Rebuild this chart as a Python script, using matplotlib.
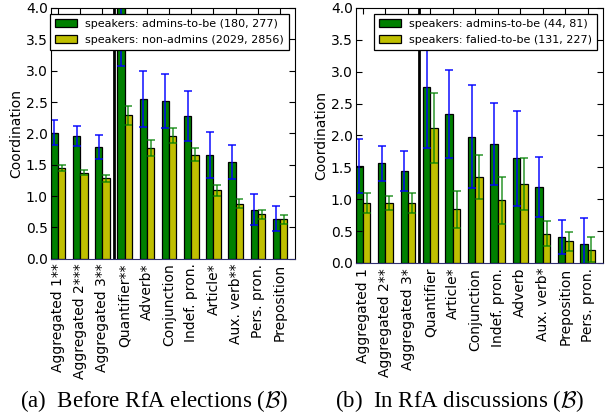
import matplotlib
matplotlib.use('Agg')
import matplotlib.pyplot as plt
import numpy as np

plt.rcParams['mathtext.fontset'] = 'cm'

labels_a = ['Aggregated 1**', 'Aggregated 2***', 'Aggregated 3**', 'Quantifier**', 'Adverb*',
            'Conjunction', 'Indef. pron.', 'Article*', 'Aux. verb**', 'Pers. pron.', 'Preposition']
admins_a = [2.01, 1.96, 1.78, 4.08, 2.55, 2.52, 2.28, 1.65, 1.54, 0.78, 0.64]
admins_a_err = [0.20, 0.16, 0.19, 1.00, 0.45, 0.43, 0.40, 0.37, 0.27, 0.25, 0.20]
nonadmins_a = [1.45, 1.37, 1.28, 2.29, 1.77, 1.96, 1.66, 1.09, 0.88, 0.71, 0.63]
nonadmins_a_err = [0.05, 0.04, 0.05, 0.15, 0.13, 0.12, 0.10, 0.09, 0.07, 0.07, 0.07]

labels_b = ['Aggregated 1', 'Aggregated 2**', 'Aggregated 3*', 'Quantifier', 'Article*',
            'Conjunction', 'Indef. pron.', 'Adverb', 'Aux. verb*', 'Preposition', 'Pers. pron.']
admins_b = [1.52, 1.56, 1.44, 2.76, 2.33, 1.98, 1.87, 1.64, 1.19, 0.41, 0.30]
admins_b_err = [0.43, 0.27, 0.31, 0.96, 0.69, 0.81, 0.64, 0.75, 0.47, 0.27, 0.41]
failed_b = [0.94, 0.94, 0.94, 2.12, 0.84, 1.35, 0.98, 1.24, 0.46, 0.34, 0.21]
failed_b_err = [0.16, 0.11, 0.15, 0.55, 0.29, 0.34, 0.37, 0.41, 0.20, 0.15, 0.19]

legend_a = ['speakers: admins-to-be (180, 277)', 'speakers: non-admins (2029, 2856)']
legend_b = ['speakers: admins-to-be (44, 81)', 'speakers: falied-to-be (131, 227)']

width = 0.33
fig = plt.figure(figsize=(6.13, 4.2), dpi=100)


def draw(ax, labels, a, a_err, b, b_err, leg):
    ind = np.arange(len(labels))
    bars1 = ax.bar(ind, a, width, align='edge', color='g', edgecolor='black', linewidth=0.9,
                   yerr=a_err, error_kw=dict(ecolor=(0, 0, 1, 0.8), capsize=3, elinewidth=1.3, capthick=1.3))
    bars2 = ax.bar(ind + width, b, width, align='edge', color='y', edgecolor='black', linewidth=0.9,
                   yerr=b_err, error_kw=dict(ecolor=(0, 0.5, 0, 0.7), capsize=3, elinewidth=1.3, capthick=1.3))
    ax.axvline(3 - (1 - 2 * width) / 2, color='black', linewidth=2)
    ax.set_xlim(0, len(labels))
    ax.set_ylim(0, 4)
    ax.set_yticks(np.arange(0, 4.01, 0.5))
    ax.set_xticks(ind + width)
    ax.set_xticklabels(labels, rotation=90, fontsize=10)
    ax.tick_params(axis='y', direction='in', left=True, right=True, labelsize=10, length=4, pad=2)
    ax.tick_params(axis='x', direction='in', bottom=False, top=True, length=4)
    ax.set_ylabel('Coordination', fontsize=10, labelpad=2)
    ax.spines['bottom'].set_color('#303070')
    l = ax.legend([bars1, bars2], leg, loc='upper right', fontsize=8.0, fancybox=False,
                  framealpha=1, edgecolor='black', borderaxespad=0.55, handlelength=2.0,
                  handletextpad=0.7, borderpad=0.45)
    l.get_frame().set_linewidth(0.9)


ax1 = fig.add_axes([0.0827, 0.384, 0.3985, 0.597])
draw(ax1, labels_a, admins_a, admins_a_err, nonadmins_a, nonadmins_a_err, legend_a)
ax2 = fig.add_axes([0.580, 0.374, 0.4034, 0.607])
draw(ax2, labels_b, admins_b, admins_b_err, failed_b, failed_b_err, legend_b)

fig.text(0.251, 0.045, r'(a)  Before RfA elections ($\mathcal{B}$)', ha='center', va='center',
         family='Liberation Serif', fontsize=16.5)
fig.text(0.749, 0.045, r'(b)  In RfA discussions ($\mathcal{B}$)', ha='center', va='center',
         family='Liberation Serif', fontsize=16.5)

plt.savefig('out.png', dpi=100)
